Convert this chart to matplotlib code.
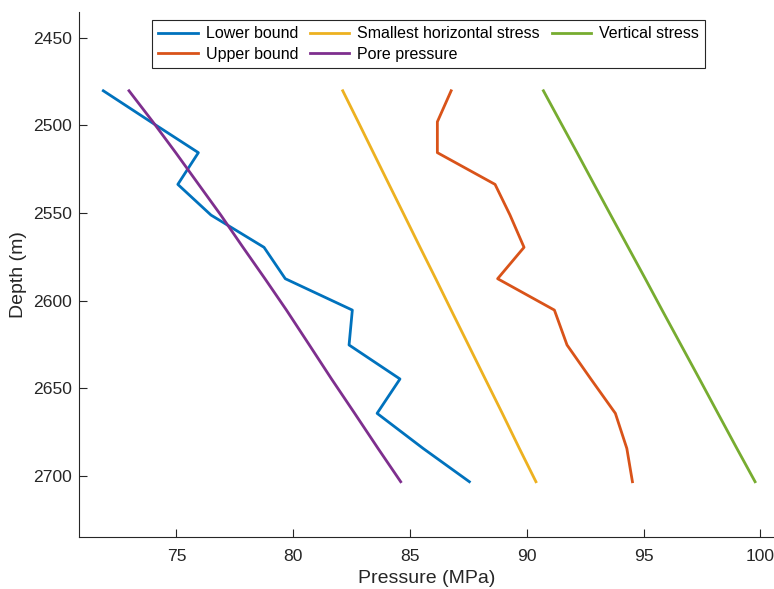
import matplotlib
matplotlib.use("Agg")
import matplotlib.pyplot as plt

plt.rcParams['font.family'] = ['Liberation Sans', 'DejaVu Sans']

# depth (m) of each sample
depth = [2480.3, 2498.0, 2515.6, 2533.7, 2551.2, 2569.6, 2587.5,
         2605.4, 2625.3, 2644.7, 2664.3, 2684.3, 2703.3]

# pressures (MPa)
lower_bound = [71.87, 73.90, 75.94, 75.06, 76.48, 78.75, 79.66,
               82.53, 82.39, 84.57, 83.59, 85.56, 87.54]
upper_bound = [86.76, 86.17, 86.17, 88.64, 89.28, 89.88, 88.75,
               91.18, 91.72, 92.74, 93.79, 94.28, 94.52]
shmin = [82.12, 82.78, 83.43, 84.10, 84.75, 85.43, 86.10,
         86.76, 87.50, 88.22, 88.95, 89.68, 90.39]
pore = [72.97, 73.99, 74.97, 75.95, 76.90, 77.85, 78.79,
        79.71, 80.69, 81.64, 82.63, 83.63, 84.60]
sv = [90.71, 91.43, 92.15, 92.88, 93.59, 94.34, 95.07,
      95.79, 96.60, 97.39, 98.18, 98.99, 99.77]

W, H = 774, 589
fig = plt.figure(figsize=(W / 100, H / 100), dpi=100)
ax = fig.add_axes([79 / W, 1 - 537.3 / H, (774 - 79) / W, (537.3 - 11.7) / H])

lw = 2.0
ax.plot(lower_bound, depth, color='#0072BD', lw=lw, label='Lower bound')
ax.plot(upper_bound, depth, color='#D95319', lw=lw, label='Upper bound')
ax.plot(shmin, depth, color='#EDB120', lw=lw, label='Smallest horizontal stress')
ax.plot(pore, depth, color='#7E2F8E', lw=lw, label='Pore pressure')
ax.plot(sv, depth, color='#77AC30', lw=lw, label='Vertical stress')

ax.set_xlim(70.83, 100.58)
ax.set_ylim(2735, 2435.2)
ax.set_xticks([75, 80, 85, 90, 95, 100])
ax.set_yticks([2450, 2500, 2550, 2600, 2650, 2700])

for s in ['top', 'right']:
    ax.spines[s].set_visible(False)
for s in ['left', 'bottom']:
    ax.spines[s].set_color('#262626')
    ax.spines[s].set_linewidth(0.8)

ax.tick_params(direction='in', length=5.5, width=0.8, colors='#262626',
               labelsize=12.6, pad=5.3)
ax.tick_params(axis='x', pad=8.5)

ax.set_xlabel('Pressure (MPa)', fontsize=14, color='#262626', labelpad=4)
ax.set_ylabel('Depth (m)', fontsize=14, color='#262626', labelpad=4)

leg = ax.legend(loc='upper left', bbox_to_anchor=(152 / W, 1 - 20 / H),
                bbox_transform=fig.transFigure, ncol=3, fontsize=11.5,
                frameon=True, fancybox=False, framealpha=1,
                handlelength=2.45, handletextpad=0.5, columnspacing=0.75,
                labelspacing=0.35, borderpad=0.4, borderaxespad=0)
leg.get_frame().set_edgecolor('#262626')
leg.get_frame().set_linewidth(0.8)

fig.savefig('out.png', dpi=100)
